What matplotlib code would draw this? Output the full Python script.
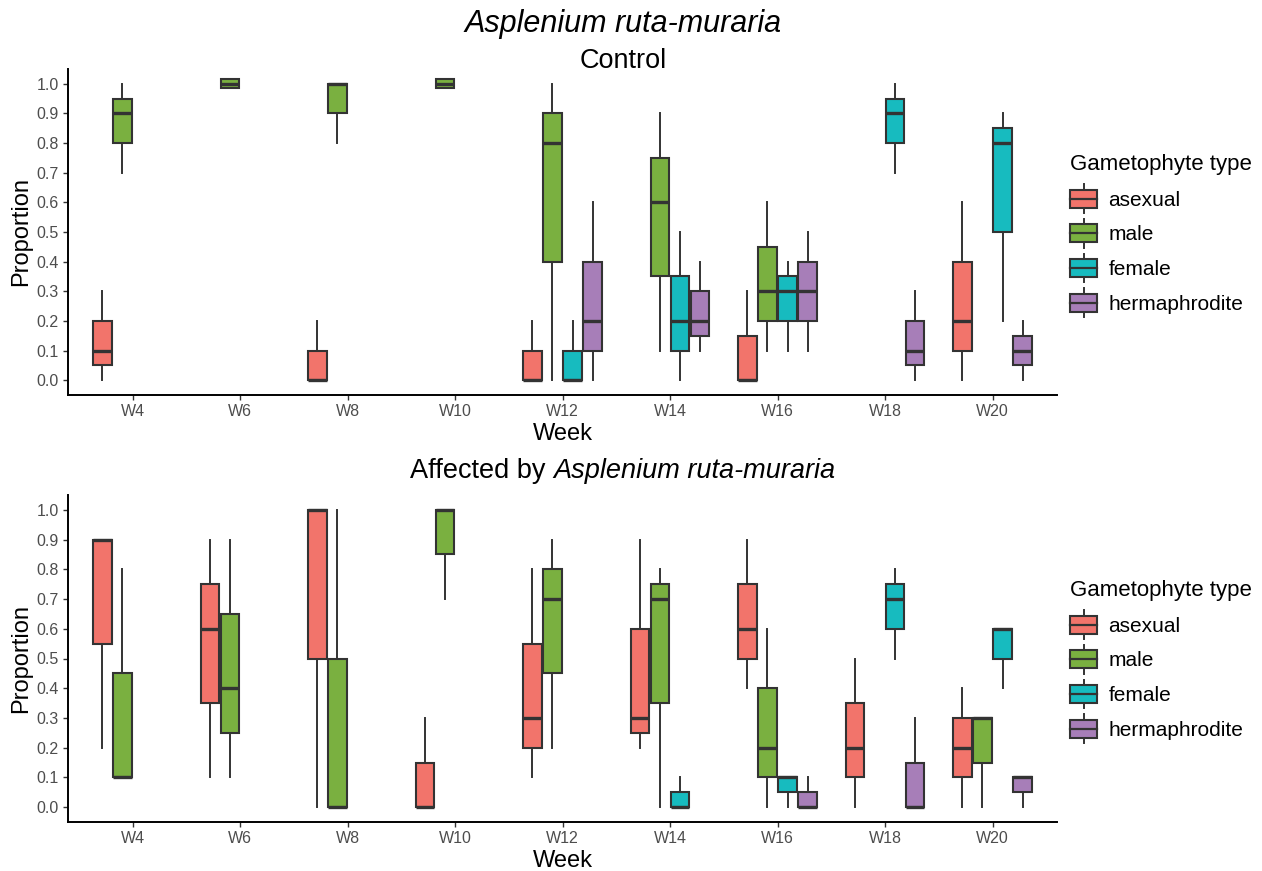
import matplotlib
matplotlib.use("Agg")
import matplotlib.pyplot as plt
from matplotlib.patches import Patch, Rectangle
from matplotlib.lines import Line2D
from matplotlib.legend_handler import HandlerBase

plt.rcParams['font.family'] = ['Liberation Sans', 'DejaVu Sans']

weeks = ["W4", "W6", "W8", "W10", "W12", "W14", "W16", "W18", "W20"]
types = ["asexual", "male", "female", "hermaphrodite"]
colors = ["#F2746B", "#7AB040", "#17BBBF", "#A77EB8"]

# five-number summaries per week: (whisker low, q1, median, q3, whisker high)
ctrl_asexual = [(0.0, 0.05, 0.1, 0.2, 0.3), None, (0.0, 0.0, 0.0, 0.1, 0.2), None,
                (0.0, 0.0, 0.0, 0.1, 0.2), None, (0.0, 0.0, 0.0, 0.15, 0.3), None,
                (0.0, 0.1, 0.2, 0.4, 0.6)]
ctrl_male = [(0.7, 0.8, 0.9, 0.95, 1.0), (0.985, 0.985, 1.0, 1.015, 1.015),
             (0.8, 0.9, 1.0, 1.0, 1.0), (0.985, 0.985, 1.0, 1.015, 1.015),
             (0.0, 0.4, 0.8, 0.9, 1.0), (0.1, 0.35, 0.6, 0.75, 0.9),
             (0.1, 0.2, 0.3, 0.45, 0.6), None, None]
ctrl_female = [None, None, None, None, (0.0, 0.0, 0.0, 0.1, 0.2), (0.0, 0.1, 0.2, 0.35, 0.5),
               (0.1, 0.2, 0.3, 0.35, 0.4), (0.7, 0.8, 0.9, 0.95, 1.0), (0.2, 0.5, 0.8, 0.85, 0.9)]
ctrl_herm = [None, None, None, None, (0.0, 0.1, 0.2, 0.4, 0.6), (0.1, 0.15, 0.2, 0.3, 0.4),
             (0.1, 0.2, 0.3, 0.4, 0.5), (0.0, 0.05, 0.1, 0.2, 0.3), (0.0, 0.05, 0.1, 0.15, 0.2)]

aff_asexual = [(0.2, 0.55, 0.9, 0.9, 0.9), (0.1, 0.35, 0.6, 0.75, 0.9), (0.0, 0.5, 1.0, 1.0, 1.0),
               (0.0, 0.0, 0.0, 0.15, 0.3), (0.1, 0.2, 0.3, 0.55, 0.8), (0.2, 0.25, 0.3, 0.6, 0.9),
               (0.4, 0.5, 0.6, 0.75, 0.9), (0.0, 0.1, 0.2, 0.35, 0.5), (0.0, 0.1, 0.2, 0.3, 0.4)]
aff_male = [(0.1, 0.1, 0.1, 0.45, 0.8), (0.1, 0.25, 0.4, 0.65, 0.9), (0.0, 0.0, 0.0, 0.5, 1.0),
            (0.7, 0.85, 1.0, 1.0, 1.0), (0.2, 0.45, 0.7, 0.8, 0.9), (0.0, 0.35, 0.7, 0.75, 0.8),
            (0.0, 0.1, 0.2, 0.4, 0.6), None, (0.0, 0.15, 0.3, 0.3, 0.3)]
aff_female = [None, None, None, None, None, (0.0, 0.0, 0.0, 0.05, 0.1), (0.0, 0.05, 0.1, 0.1, 0.1),
              (0.5, 0.6, 0.7, 0.75, 0.8), (0.4, 0.5, 0.6, 0.6, 0.6)]
aff_herm = [None, None, None, None, None, None, (0.0, 0.0, 0.0, 0.05, 0.1),
            (0.0, 0.0, 0.0, 0.15, 0.3), (0.0, 0.05, 0.1, 0.1, 0.1)]

EDGE = "#333333"
SLOT = 0.187
BOXW = 0.172


class BoxKey(HandlerBase):
    def create_artists(self, legend, orig_handle, xdescent, ydescent, width, height, fontsize, trans):
        x0, y0 = -xdescent, -ydescent
        fc = orig_handle.get_facecolor()
        rect = Rectangle((x0, y0), width, height, facecolor=fc, edgecolor=EDGE, lw=1.5, transform=trans)
        xm = x0 + width / 2
        up = Line2D([xm, xm], [y0 + height, y0 + height * 1.3], color=EDGE, lw=1.4, transform=trans)
        dn = Line2D([xm, xm], [y0 - height * 0.3, y0], color=EDGE, lw=1.4, transform=trans)
        med = Line2D([x0, x0 + width], [y0 + height / 2] * 2, color=EDGE, lw=1.6, transform=trans)
        return [up, dn, rect, med]


def draw_panel(ax, groups):
    for k, (rows, col) in enumerate(zip(groups, colors)):
        stats, pos = [], []
        for i, r in enumerate(rows):
            if r is None:
                continue
            lo, q1, med, q3, hi = r
            stats.append(dict(whislo=lo, q1=q1, med=med, q3=q3, whishi=hi, fliers=[]))
            pos.append(i + 1 + (k - 1.5) * SLOT)
        ax.bxp(stats, positions=pos, widths=BOXW, patch_artist=True, showcaps=False,
               showfliers=False, manage_ticks=False,
               boxprops=dict(facecolor=col, edgecolor=EDGE, lw=1.5),
               whiskerprops=dict(color=EDGE, lw=1.4),
               medianprops=dict(color=EDGE, lw=2.4, solid_capstyle='butt'))
    ax.set_xlim(0.4, len(weeks) + 0.6)
    ax.set_ylim(-0.05, 1.05)
    ax.set_xticks(range(1, len(weeks) + 1))
    ax.set_xticklabels(weeks)
    ax.set_yticks([i / 10 for i in range(11)])
    ax.set_yticklabels(["%.1f" % (i / 10) for i in range(11)])
    for s in ["top", "right"]:
        ax.spines[s].set_visible(False)
    for s in ["left", "bottom"]:
        ax.spines[s].set_linewidth(1.4)
        ax.spines[s].set_color("black")
    ax.tick_params(length=3.5, width=1.0, color=EDGE, labelcolor="#4D4D4D", labelsize=11.5, pad=3)
    ax.set_xlabel("Week", fontsize=17, labelpad=3)
    ax.set_ylabel("Proportion", fontsize=17, labelpad=3)


fig = plt.figure(figsize=(12.62, 8.71), dpi=100)
W, H = 1262, 871
ax1 = fig.add_axes([68 / W, 1 - 395 / H, (1057 - 68) / W, (395 - 69) / H])
ax2 = fig.add_axes([68 / W, 1 - 822 / H, (1057 - 68) / W, (822 - 495) / H])

draw_panel(ax1, [ctrl_asexual, ctrl_male, ctrl_female, ctrl_herm])
draw_panel(ax2, [aff_asexual, aff_male, aff_female, aff_herm])

handles = [Patch(facecolor=c, label=t) for t, c in zip(types, colors)]
for top in (154, 580):
    fig.legend(handles=handles, loc="upper left", bbox_to_anchor=(1070 / W, 1 - top / H),
               frameon=False, title="Gametophyte type", title_fontsize=16, fontsize=15,
               alignment="left", borderpad=0, borderaxespad=0, handlelength=1.3,
               handleheight=0.95, labelspacing=0.7, handletextpad=0.55,
               handler_map={Patch: BoxKey()})

cx = 623 / W
fig.text(cx, 1 - 24 / H, "Asplenium ruta-muraria", ha="center", va="center",
         fontsize=22, style="italic")
fig.text(cx, 1 - 61 / H, "Control", ha="center", va="center", fontsize=19.5)

# mixed upright / italic subtitle for the lower panel
y2 = 1 - 471 / H
t1 = fig.text(0, y2, "Affected by ", ha="left", va="center", fontsize=19.5)
t2 = fig.text(0, y2, "Asplenium ruta-muraria", ha="left", va="center", fontsize=19.5, style="italic")
r = fig.canvas.get_renderer()
w1 = t1.get_window_extent(r).width / W
w2 = t2.get_window_extent(r).width / W
x0 = cx - (w1 + w2) / 2
t1.set_x(x0)
t2.set_x(x0 + w1)

fig.savefig("out.png", dpi=100)
